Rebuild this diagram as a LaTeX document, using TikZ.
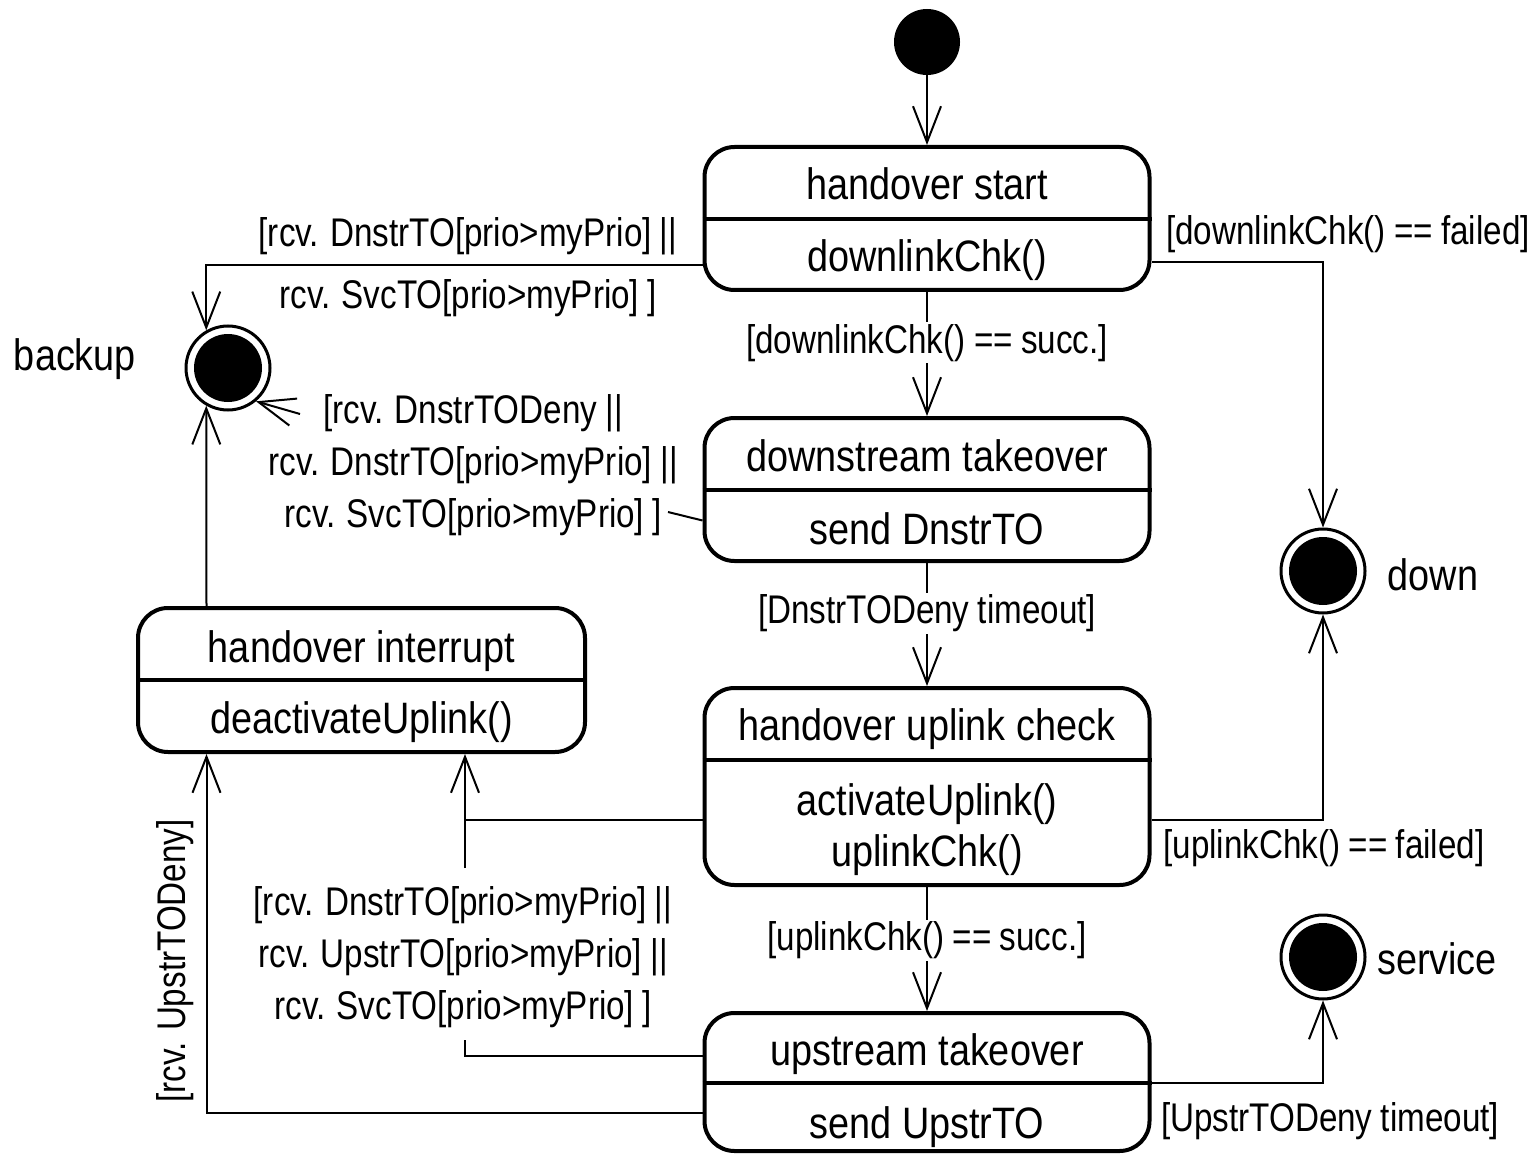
\documentclass[tikz,border=0pt]{standalone}
\usepackage{fontspec}
\setmainfont{Liberation Sans}[FakeStretch=0.86]
\newfontfamily\guardfont{Liberation Sans}[FakeStretch=0.83, WordSpace=0.9]
\usetikzlibrary{arrows.meta,calc}

\begin{document}
\begin{tikzpicture}[x=1pt,y=-1pt,
  state/.style={draw, line width=4pt, rounded corners=30pt, minimum width=445pt, inner sep=0pt},
  stxt/.style={anchor=base, font=\fontsize{44}{52}\selectfont, inner sep=0pt},
  guard/.style={font=\guardfont\fontsize{40}{52}\selectfont, align=center, inner sep=2pt},
  conn/.style={line width=2pt},
  tr/.style={conn, -{Straight Barb[length=36pt, width=28pt]}},
  initial/.style={circle, fill=black, minimum size=66pt, inner sep=0pt},
  final/.style={circle, draw, line width=3pt, minimum size=84pt, inner sep=0pt,
    path picture={\fill[black] (path picture bounding box.center) circle (34pt);}},
  divider/.style={line width=4pt},
]
\useasboundingbox (0,0) rectangle (1538,1155);

% pseudo-states
\node[initial] (init) at (927,42) {};
\node[final] (backup) at (228,368) {};
\node[final] (down) at (1323,571) {};
\node[final] (service) at (1323,957) {};
\node[stxt] (backupname) at (75,370) {backup};
\node[stxt] (downname) at (1433,590) {down};
\node[stxt] (servicename) at (1437,974) {service};

% states
\node[state, minimum height=143pt] (hs) at (927,218.5) {};
\draw[divider] ($(hs.west)+(0,0.5)$) -- ($(hs.east)+(0,0.5)$);
\node[stxt] (hs1) at (927,200) {handover start};
\node[stxt] (hs2) at (927,272) {downlinkChk()};

\node[state, minimum height=143pt] (dt) at (927,489.5) {};
\draw[divider] ($(dt.west)+(0,0.5)$) -- ($(dt.east)+(0,0.5)$);
\node[stxt] (dt1) at (927,471) {downstream takeover};
\node[stxt] (dt2) at (927,544) {send DnstrTO};

\node[state, minimum height=197pt] (uc) at (927,786.5) {};
\draw[divider] ($(uc.west)+(0,-26.5)$) -- ($(uc.east)+(0,-26.5)$);
\node[stxt] (uc1) at (927,740) {handover uplink check};
\node[stxt] (uc2) at (927,815) {activateUplink()};
\node[stxt] (uc3) at (927,866) {uplinkChk()};

\node[state, minimum height=138pt] (ut) at (927,1082) {};
\draw[divider] ($(ut.west)+(0,1)$) -- ($(ut.east)+(0,1)$);
\node[stxt] (ut1) at (927,1065) {upstream takeover};
\node[stxt] (ut2) at (927,1138) {send UpstrTO};

\node[state, minimum width=447pt, minimum height=144pt] (hi) at (361.5,680) {};
\draw[divider] (hi.west) -- (hi.east);
\node[stxt] (hi1) at (361.5,662) {handover interrupt};
\node[stxt] (hi2) at (361.5,733) {deactivateUplink()};

% transitions
\draw[tr] (init) -- (hs);

\draw[tr] ($(hs.west)+(0,46.5)$) -| (backup.120);
\node[guard, font=\guardfont\fontsize{40}{62}\selectfont] (g1) at (468,267)
  {[rcv. DnstrTO[prio>myPrio] ||\\rcv. SvcTO[prio>myPrio] ]};

\draw[tr] ($(hs.east)+(0,43.5)$) -| (down.north);
\node[guard] (g2) at (1348,234) {[downlinkChk() == failed]};

\draw[tr] (hs) -- node[guard, fill=white, pos=0.41] (g3) {[downlinkChk() == succ.]} (dt);

\node[guard] (g4) at (473,465)
  {[rcv. DnstrTODeny ||\\rcv. DnstrTO[prio>myPrio] ||\\rcv. SvcTO[prio>myPrio] ]};
\coordinate (g4in) at (668,512);
\coordinate (g4out) at (300,414);
\draw[conn] ($(dt.west)+(0,31)$) -- (g4in);
\draw[tr] (g4out) -- (backup.-50);

\draw[tr] (dt) -- node[guard, fill=white, pos=0.41] (g5) {[DnstrTODeny timeout]} (uc);

\draw[tr] ($(uc.east)+(0,33.5)$) -| (down.south);
\node[guard] (g6) at (1324,848) {[uplinkChk() == failed]};

\draw[tr] ($(uc.west)+(0,33.5)$) -| ($(hi.south)+(103.5,0)$);

\draw[tr] (uc) -- node[guard, fill=white, pos=0.43] (g7) {[uplinkChk() == succ.]} (ut);

\node[guard] (g8) at (463,957)
  {[rcv. DnstrTO[prio>myPrio] ||\\rcv. UpstrTO[prio>myPrio] ||\\rcv. SvcTO[prio>myPrio] ]};
\coordinate (g8in) at (465,1040);
\coordinate (g8out) at (465,868);
\coordinate (join) at (465,820);
\draw[conn] ($(ut.west)+(0,-26)$) -| (g8in);
\draw[conn] (g8out) -- (join);

\draw[tr] ($(ut.west)+(0,31)$) -| ($(hi.south)+(-155,0)$);
\node[guard, rotate=90] (g9) at (175,961) {[rcv. UpstrTODeny]};

\draw[tr] ($(hi.north)+(-155,0)$) -- (backup.240);

\draw[tr] ($(ut.east)+(0,1)$) -| (service.south);
\node[guard] (g10) at (1330,1121) {[UpstrTODeny timeout]};
\end{tikzpicture}
\end{document}
